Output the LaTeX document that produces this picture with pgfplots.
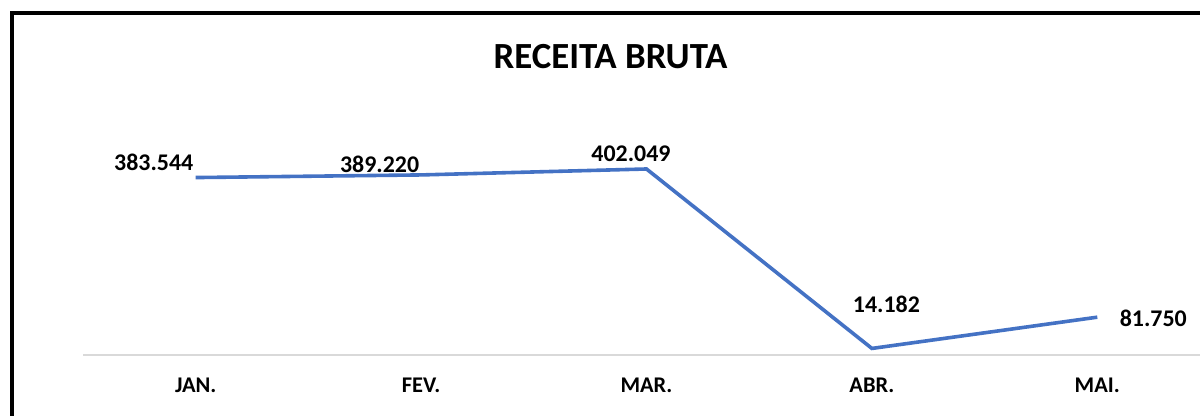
\documentclass[border=0pt]{standalone}
\usepackage{fontspec}
\setmainfont{Carlito}
\usepackage{pgfplots}
\pgfplotsset{compat=1.18}
\definecolor{LineBlue}{HTML}{4472C4}
\definecolor{AxisGrey}{HTML}{D9D9D9}

\begin{document}
\begin{tikzpicture}
  % frame, cut off at right and bottom like the reference
  \draw[line width=2bp,black] (5.75bp,-20bp) -- (5.75bp,201.5bp) -- (640bp,201.5bp);
  \node[font=\bfseries\fontsize{18.5}{20}\selectfont,inner sep=0pt] at (305.25bp,179.5bp) {RECEITA BRUTA};
  \begin{axis}[
    at={(41.5bp,30.5bp)},anchor=south west,
    scale only axis,width=563.5bp,height=104.1bp,
    xmin=-0.5,xmax=4.5,ymin=0,ymax=450000,
    axis x line=bottom,axis y line=none,
    x axis line style={AxisGrey,line width=1.2bp,-},
    xtick={0,1,2,3,4},
    xticklabels={JAN.,FEV.,MAR.,ABR.,MAI.},
    major tick length=0pt,
    xticklabel style={font=\bfseries\fontsize{11.25}{12}\selectfont,anchor=center,inner sep=0pt,yshift=-15.25bp},
    clip=false
  ]
    \addplot[LineBlue,line width=1.8bp,no markers] coordinates {(0,383544)(1,389220)(2,402049)(3,14182)(4,81750)};
    \begin{scope}[every node/.style={font=\bfseries\fontsize{12}{13}\selectfont,inner sep=0pt}]
      \node[xshift=-21bp,yshift=7.5bp] at (axis cs:0,383544) {383.544};
      \node[xshift=-20.75bp,yshift=5.5bp] at (axis cs:1,389220) {389.220};
      \node[xshift=-7.75bp,yshift=7.5bp] at (axis cs:2,402049) {402.049};
      \node[xshift=7.25bp,yshift=22bp] at (axis cs:3,14182) {14.182};
      \node[xshift=28bp,yshift=-0.75bp] at (axis cs:4,81750) {81.750};
    \end{scope}
  \end{axis}
  \pgfresetboundingbox
  \useasboundingbox (0,0) rectangle (600bp,208bp);
\end{tikzpicture}
\end{document}
